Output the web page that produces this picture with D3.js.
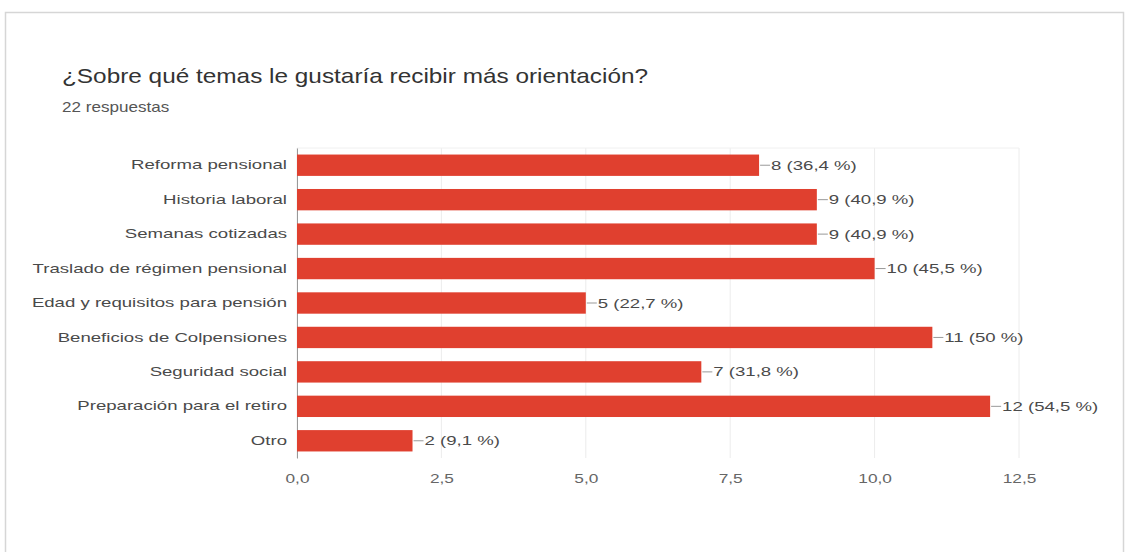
<!DOCTYPE html>
<html><head><meta charset="utf-8">
<script src="https://cdn.jsdelivr.net/npm/d3@7"></script>
<style>body{margin:0;background:#fff;font-family:"Liberation Sans",Arial,sans-serif;}</style>
</head><body>
<svg id="c" width="1130" height="552"></svg>
<script>
const categories = ["Reforma pensional","Historia laboral","Semanas cotizadas","Traslado de régimen pensional","Edad y requisitos para pensión","Beneficios de Colpensiones","Seguridad social","Preparación para el retiro","Otro"];
const counts = [8,9,9,10,5,11,7,12,2];
const percents = ["36,4","40,9","40,9","45,5","22,7","50","31,8","54,5","9,1"];
const tickValues = [0,2.5,5,7.5,10,12.5];
const tickLabels = ["0,0","2,5","5,0","7,5","10,0","12,5"];

const FONT = "'Liberation Sans',Arial,sans-serif";
const SX = 1.43; // horizontal stretch of the reference screenshot
const svg = d3.select("#c");
// card
svg.append("rect").attr("x",5.5).attr("y",12.5).attr("width",1118).attr("height",545)
  .attr("fill","#fff").attr("stroke","#d6d6d6").attr("stroke-width",1.5);
svg.append("text").attr("transform",`translate(62,83) scale(1.16,1)`).attr("font-size",21).attr("fill","#333")
  .attr("font-family",FONT).text("¿Sobre qué temas le gustaría recibir más orientación?");
svg.append("text").attr("transform",`translate(62,112) scale(1.22,1)`).attr("font-size",14).attr("fill","#555")
  .attr("font-family",FONT).text("22 respuestas");

const x = d3.scaleLinear().domain([0,12.5]).range([297,1019]);
const y = d3.scaleBand().domain(categories).range([148,458]).paddingInner(0.38).paddingOuter(0.19);

// grid
svg.append("g").selectAll("line").data(tickValues).join("line")
  .attr("x1",d=>x(d)).attr("x2",d=>x(d)).attr("y1",148).attr("y2",458)
  .attr("stroke","#ececec");
svg.append("line").attr("x1",x(0)).attr("x2",x(12.5)).attr("y1",148).attr("y2",148).attr("stroke","#f0f0f0");

// x axis labels
const xa = svg.append("g").attr("transform","translate(0,458)")
  .call(d3.axisBottom(x).tickValues(tickValues).tickFormat((d,i)=>tickLabels[i]).tickSize(0).tickPadding(16));
xa.select(".domain").remove();
xa.selectAll("text").attr("font-size",13).attr("fill","#666").attr("font-family",FONT)
  .attr("transform",`scale(1.33,1)`);

// y axis labels
const ya = svg.append("g").attr("transform",`translate(${x(0)},0)`)
  .call(d3.axisLeft(y).tickSize(0).tickPadding(10));
ya.select(".domain").attr("stroke","#999");
ya.selectAll("text").attr("font-size",13).attr("fill","#4a4a4a").attr("font-family",FONT)
  .attr("x",-10/SX).attr("transform",`scale(${SX},1)`);

// bars
svg.append("g").selectAll("rect").data(categories).join("rect")
  .attr("x",x(0)).attr("y",d=>y(d)).attr("height",y.bandwidth())
  .attr("width",(d,i)=>x(counts[i])-x(0)).attr("fill","#e0402f");

// leader + labels
const lab = svg.append("g").selectAll("g").data(categories).join("g")
  .attr("transform",(d,i)=>`translate(${x(counts[i])},${y(d)+y.bandwidth()/2})`);
lab.append("line").attr("x1",1).attr("x2",11).attr("stroke","#999");
lab.append("text").attr("transform",`translate(12,0) scale(${SX},1)`).attr("dy","0.35em")
  .attr("font-size",13).attr("fill","#4a4a4a").attr("font-family",FONT)
  .text((d,i)=>`${counts[i]} (${percents[i]} %)`);
</script>
</body></html>
